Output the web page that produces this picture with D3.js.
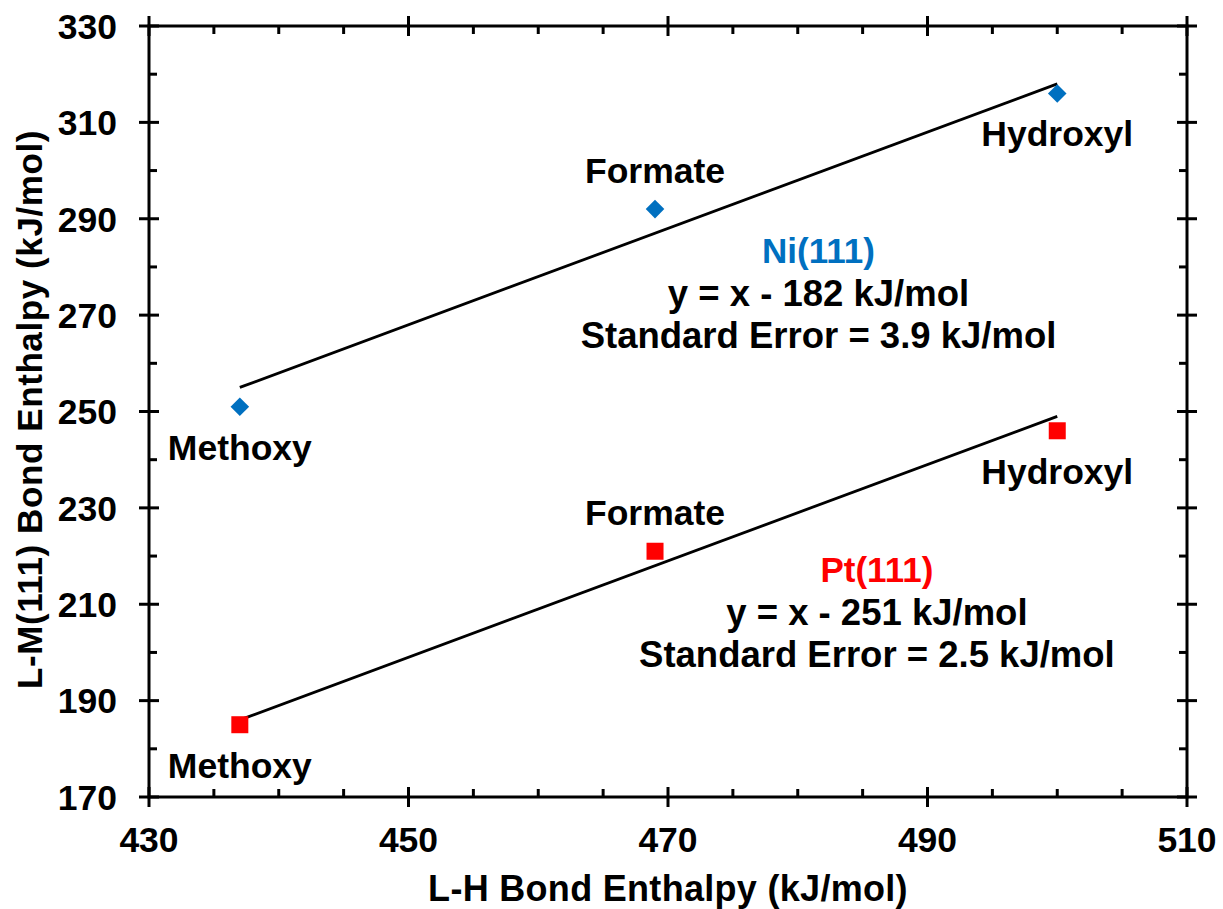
<!DOCTYPE html>
<html>
<head>
<meta charset="utf-8">
<script src="https://cdn.jsdelivr.net/npm/d3@7"></script>
<style>
  html, body { margin: 0; padding: 0; background: #fff; }
  svg text { font-family: "Liberation Sans", Arial, sans-serif; font-weight: bold; }
</style>
</head>
<body>
<svg id="chart" width="1223" height="909"></svg>
<script>
// Ligands and their L-H bond enthalpies (kJ/mol)
const ligands = ["Methoxy", "Formate", "Hydroxyl"];
const lhEnthalpy = [437, 469, 500];

// L-M(111) bond enthalpies (kJ/mol) on each surface
const niEnthalpy = [251, 292, 316];
const ptEnthalpy = [185, 221, 246];

// Linear fits y = x + b
const niIntercept = -182;
const ptIntercept = -251;
const niStdError = 3.9;
const ptStdError = 2.5;

// Axis ticks
const xMajorTicks = [430, 450, 470, 490, 510];
const yMajorTicks = [170, 190, 210, 230, 250, 270, 290, 310, 330];

const svg = d3.select("#chart");
const plotL = 149, plotR = 1187, plotT = 26, plotB = 797;

const x = d3.scaleLinear().domain([430, 510]).range([plotL, plotR]);
const y = d3.scaleLinear().domain([170, 330]).range([plotB, plotT]);

const FONT = 35.5;
const NOTE_FONT = 36.5;
const blue = "#0070C0", red = "#FF0000";

const xMinor = d3.range(430, 510.01, 5).filter(v => !xMajorTicks.includes(v));
const yMinor = d3.range(170, 330.01, 10).filter(v => !yMajorTicks.includes(v));

// Frame with crossing major ticks and inward minor ticks on all four sides
const frame = svg.append("g").attr("stroke", "#000").attr("stroke-width", 3);
frame.append("rect").attr("x", plotL).attr("y", plotT)
  .attr("width", plotR - plotL).attr("height", plotB - plotT).attr("fill", "none");

const MAJ = 10, MIN = 8;
xMajorTicks.forEach(v => {
  frame.append("line").attr("x1", x(v)).attr("x2", x(v)).attr("y1", plotB - MAJ).attr("y2", plotB + MAJ);
  frame.append("line").attr("x1", x(v)).attr("x2", x(v)).attr("y1", plotT - MAJ).attr("y2", plotT + MAJ);
});
xMinor.forEach(v => {
  frame.append("line").attr("x1", x(v)).attr("x2", x(v)).attr("y1", plotB).attr("y2", plotB - MIN);
  frame.append("line").attr("x1", x(v)).attr("x2", x(v)).attr("y1", plotT).attr("y2", plotT + MIN);
});
yMajorTicks.forEach(v => {
  frame.append("line").attr("y1", y(v)).attr("y2", y(v)).attr("x1", plotL - MAJ).attr("x2", plotL + MAJ);
  frame.append("line").attr("y1", y(v)).attr("y2", y(v)).attr("x1", plotR - MAJ).attr("x2", plotR + MAJ);
});
yMinor.forEach(v => {
  frame.append("line").attr("y1", y(v)).attr("y2", y(v)).attr("x1", plotL).attr("x2", plotL + MIN);
  frame.append("line").attr("y1", y(v)).attr("y2", y(v)).attr("x1", plotR).attr("x2", plotR - MIN);
});

// Tick labels
svg.append("g").selectAll("text").data(xMajorTicks).join("text")
  .attr("x", d => x(d)).attr("y", 852)
  .attr("text-anchor", "middle").attr("font-size", FONT).text(d => d);
svg.append("g").selectAll("text").data(yMajorTicks).join("text")
  .attr("x", 117).attr("y", d => y(d)).attr("dy", "0.36em")
  .attr("text-anchor", "end").attr("font-size", FONT).text(d => d);

// Axis titles
svg.append("text").attr("x", (plotL + plotR) / 2).attr("y", 901)
  .attr("text-anchor", "middle").attr("font-size", 36).attr("letter-spacing", 0.3)
  .text("L-H Bond Enthalpy (kJ/mol)");
svg.append("text")
  .attr("transform", `translate(42,${(plotT + plotB) / 2 - 2}) rotate(-90)`)
  .attr("text-anchor", "middle").attr("font-size", 35).attr("letter-spacing", 0.6)
  .text("L-M(111) Bond Enthalpy (kJ/mol)");

// Fit lines
const xFit = [d3.min(lhEnthalpy), d3.max(lhEnthalpy)];
const fitLine = d3.line().x(d => x(d[0])).y(d => y(d[1]));
[niIntercept, ptIntercept].forEach(b => {
  svg.append("path").datum(xFit.map(v => [v, v + b]))
    .attr("d", fitLine).attr("fill", "none").attr("stroke", "#000").attr("stroke-width", 2.8);
});

// Markers
const ni = ligands.map((name, i) => ({ name, lh: lhEnthalpy[i], lm: niEnthalpy[i] }));
const pt = ligands.map((name, i) => ({ name, lh: lhEnthalpy[i], lm: ptEnthalpy[i] }));

svg.append("g").selectAll("path").data(ni).join("path")
  .attr("transform", d => `translate(${x(d.lh)},${y(d.lm)})`)
  .attr("d", d3.symbol(d3.symbolDiamond2, 220))
  .attr("fill", blue);
svg.append("g").selectAll("rect").data(pt).join("rect")
  .attr("x", d => x(d.lh) - 8.5).attr("y", d => y(d.lm) - 8.5)
  .attr("width", 17).attr("height", 17).attr("fill", red);

// Point labels: Formate above its marker, the others below
const labelOffset = name => name === "Formate" ? -26 : 53;
[ni, pt].forEach(series => {
  svg.append("g").selectAll("text").data(series).join("text")
    .attr("x", d => x(d.lh)).attr("y", d => y(d.lm) + labelOffset(d.name))
    .attr("text-anchor", "middle").attr("font-size", FONT).text(d => d.name);
});

// Fit annotations
function annotate(cx, cy, title, color, b, se) {
  const g = svg.append("g").attr("text-anchor", "middle").attr("font-size", NOTE_FONT);
  g.append("text").attr("x", x(cx)).attr("y", y(cy)).attr("fill", color)
    .attr("font-size", 35).text(title);
  g.append("text").attr("x", x(cx)).attr("y", y(cy) + 43)
    .text(`y = x - ${Math.abs(b)} kJ/mol`);
  g.append("text").attr("x", x(cx)).attr("y", y(cy) + 85)
    .text(`Standard Error = ${se.toFixed(1)} kJ/mol`);
}
annotate(481.6, 280.8, "Ni(111)", blue, niIntercept, niStdError);
annotate(486.1, 214.6, "Pt(111)", red, ptIntercept, ptStdError);
</script>
</body>
</html>
